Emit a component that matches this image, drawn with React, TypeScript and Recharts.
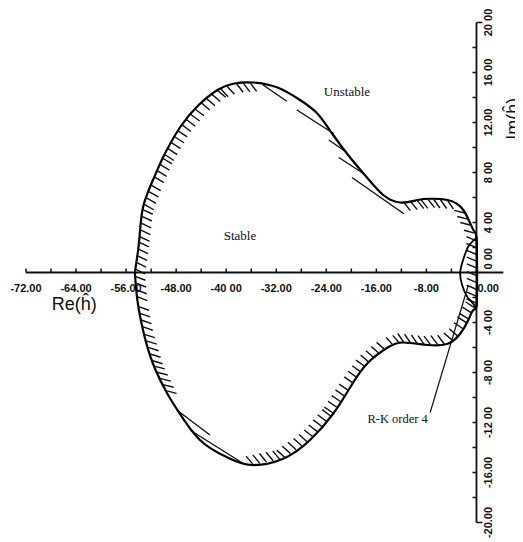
import React from 'react';
import { ScatterChart, Scatter, XAxis, YAxis, ReferenceLine, ReferenceDot } from 'recharts';

// stability boundary, traversed clockwise from the left real-axis crossing
const boundaryRe = [
  -54.6, -53.9, -53.3, -51.7, -50.1, -47.4, -44.4, -41.4, -38.9, -35.7, -31.8, -28.2,
  -25.4, -22.9, -20.2, -17.5, -14.9, -12.2, -9.4, -7.4, -4.6, -2.1, -0.5, 0.0,
  0.1, 0.0, -0.5, -1.3, -2.6, -4.6, -7.8, -11.7, -14.2, -17.5, -20.2, -22.9,
  -26.6, -30.9, -36.0, -39.8, -44.2, -47.8, -49.4, -51.7, -53.3, -54.2,
];
const boundaryIm = [
  0, 2.6, 5.2, 7.4, 9.2, 11.6, 13.4, 14.6, 15.1, 15.2, 14.8, 13.8,
  12.7, 11.0, 9.2, 7.6, 6.2, 5.6, 5.8, 5.9, 5.8, 5.0, 3.4, 2.8,
  0, -2.6, -3.0, -3.8, -4.9, -5.7, -5.8, -5.6, -6.0, -7.3, -9.2, -11.3,
  -13.4, -14.9, -15.4, -14.8, -13.4, -11.0, -9.7, -7.3, -4.6, -2.2,
];

// long strokes lying along the boundary where it runs parallel to the hatching
const longFromRe = [-34.1, -28.7, -23.6, -22.0, -19.9, -47.9, -45.8];
const longFromIm = [15.0, 13.0, 10.6, 9.2, 7.6, -11.0, -12.6];
const longToRe = [-30.3, -22.8, -20.7, -18.0, -11.6, -42.6, -37.2];
const longToIm = [13.7, 11.1, 9.6, 7.9, 4.7, -13.0, -15.3];

// R-K order 4 region
const rk4Re = [0, -0.6, -1.4, -2.2, -2.6, -2.3, -1.4, -0.5, 0, 0.1, 0.05, 0.1, 0];
const rk4Im = [2.8, 2.5, 2.0, 0.9, 0, -1.0, -2.0, -2.5, -2.8, -1.5, 0, 1.5, 2.8];

const xTicks = [-72, -68, -64, -60, -56, -52, -48, -44, -40, -36, -32, -28, -24, -20, -16, -12, -8, -4, 0];
const xLabelValues = [-72, -64, -56, -48, -40, -32, -24, -16, -8, 0];
const xLabels = ['-72.00', '-64.00', '-56.00', '-48.00', '-40 00', '-32.00', '-24.00', '-16.00', '-8.00', '0.00'];
const yTicks = [-20, -18, -16, -14, -12, -10, -8, -6, -4, -2, 0, 2, 4, 6, 8, 10, 12, 14, 16, 18, 20];
const yLabelValues = [20, 16, 12, 8, 4, 0, -4, -8, -12, -16, -20];
const yLabels = ['20 00', '16 00', '12.00', '8 00', '4 00', '0 00', '-4 00', '-8 00', '-12 00', '-16.00', '-20.00'];

const W = 515;
const H = 534;
const M = { top: 2, right: 9, bottom: 7, left: 18 };
const X_DOMAIN: [number, number] = [-72, 6];
const Y_DOMAIN: [number, number] = [-21, 21];
const KX = (W - M.left - M.right) / (X_DOMAIN[1] - X_DOMAIN[0]);
const KY = (H - M.top - M.bottom) / (Y_DOMAIN[1] - Y_DOMAIN[0]);

const boundaryData = boundaryRe.map((x, i) => ({ x, y: boundaryIm[i], i }));
const boundaryLoop = [...boundaryData, boundaryData[0]];
const rk4Data = rk4Re.map((x, i) => ({ x, y: rk4Im[i] }));
const xTickData = xTicks.map((x) => {
  const k = xLabelValues.indexOf(x);
  return { x, y: 0, label: k >= 0 ? xLabels[k] : '' };
});
const yTickData = yTicks.map((y) => {
  const k = yLabelValues.indexOf(y);
  return { x: 0, y, label: k >= 0 ? yLabels[k] : '' };
});

const tickFont = { fontFamily: '"Liberation Sans", Arial, sans-serif', fontSize: 11, fontWeight: 700 };
const serif = { fontFamily: '"Liberation Serif", serif', fontSize: 13 };
const sans18 = { fontFamily: '"Liberation Sans", Arial, sans-serif', fontSize: 18 };

const noDot = () => <g />;

// "\" hatch marks on the inner side of each boundary segment
const HatchShape = (props: any) => {
  const { cx, cy, payload } = props;
  const i = payload.i;
  const j = (i + 1) % boundaryRe.length;
  const dx = (boundaryRe[j] - boundaryRe[i]) * KX;
  const dy = -(boundaryIm[j] - boundaryIm[i]) * KY;
  const len = Math.hypot(dx, dy);
  if (!len) return <g />;
  const tx = dx / len, ty = dy / len;
  const nx = -ty, ny = tx;
  const fl = Math.hypot(1, 0.7);
  const fx = 1 / fl, fy = 0.7 / fl;
  if (Math.abs(tx * fy - ty * fx) < 0.45) return <g />;
  const sgn = fx * nx + fy * ny >= 0 ? 1 : -1;
  let hx = 0.55 * nx + sgn * fx, hy = 0.55 * ny + sgn * fy;
  const hl = Math.hypot(hx, hy);
  hx /= hl; hy /= hl;
  const L = 11;
  const step = 6.8;
  const marks = [];
  for (let s = step / 2; s < len; s += step) {
    const px = cx + tx * s, py = cy + ty * s;
    marks.push(
      <line key={s} x1={px} y1={py} x2={px + hx * L} y2={py + hy * L} stroke="#111" strokeWidth={1.4} />
    );
  }
  return <g>{marks}</g>;
};

const XTickShape = (props: any) => {
  const { cx, cy, payload } = props;
  const zero = payload.x === 0;
  return (
    <g>
      <line x1={cx} y1={cy} x2={cx} y2={cy - 4} stroke="#111" strokeWidth={1.5} />
      {payload.label && (
        <text x={zero ? cx + 1 : cx} y={cy + 19} textAnchor={zero ? 'start' : 'middle'} fill="#111" {...tickFont}>
          {payload.label}
        </text>
      )}
    </g>
  );
};

const YTickShape = (props: any) => {
  const { cx, cy, payload } = props;
  const end = Math.abs(payload.y) === 20;
  const zero = payload.y === 0;
  const lx = cx + 12;
  const ly = zero ? cy - 3 : cy;
  return (
    <g>
      <line x1={cx} y1={cy} x2={end ? cx + 6 : cx - 4} y2={cy} stroke="#111" strokeWidth={1.5} />
      {payload.label && (
        <text x={lx} y={ly} textAnchor={zero ? 'start' : 'middle'} dominantBaseline="central"
          transform={`rotate(-90 ${lx} ${ly})`} fill="#111" {...tickFont}>
          {payload.label}
        </text>
      )}
    </g>
  );
};

const textShape = (label: string, style: any, rotate = false) => (p: any) => (
  <text x={p.cx} y={p.cy} textAnchor="middle" dominantBaseline="central" fill="#111"
    transform={rotate ? `rotate(-90 ${p.cx} ${p.cy})` : undefined} {...style}>
    {label}
  </text>
);

export default function App() {
  return (
    <ScatterChart width={W} height={H} margin={M}>
      <XAxis type="number" dataKey="x" domain={X_DOMAIN} hide />
      <YAxis type="number" dataKey="y" domain={Y_DOMAIN} hide />

      <ReferenceLine segment={[{ x: -72, y: 0 }, { x: 4.3, y: 0 }]} stroke="#111" strokeWidth={1.8} />
      <ReferenceLine segment={[{ x: 0, y: -20 }, { x: 0, y: 20 }]} stroke="#111" strokeWidth={1.8} />
      <Scatter data={xTickData} shape={XTickShape} isAnimationActive={false} />
      <Scatter data={yTickData} shape={YTickShape} isAnimationActive={false} />

      <Scatter data={boundaryLoop} shape={noDot} line={{ stroke: '#000', strokeWidth: 2.2 }}
        lineJointType="natural" isAnimationActive={false} />
      <Scatter data={boundaryData} shape={HatchShape} isAnimationActive={false} />
      {longFromRe.map((x, k) => (
        <ReferenceLine key={k} segment={[{ x, y: longFromIm[k] }, { x: longToRe[k], y: longToIm[k] }]}
          stroke="#111" strokeWidth={1.4} />
      ))}
      <Scatter data={rk4Data} shape={noDot} line={{ stroke: '#000', strokeWidth: 1.8 }}
        lineJointType="natural" isAnimationActive={false} />

      <ReferenceLine segment={[{ x: -7.4, y: -11.2 }, { x: -1.3, y: -1.0 }]} stroke="#111" strokeWidth={1.2} />

      <ReferenceDot x={-37.8} y={3.0} shape={textShape('Stable', serif)} />
      <ReferenceDot x={-20.7} y={14.5} shape={textShape('Unstable', serif)} />
      <ReferenceDot x={-12.6} y={-11.7} shape={textShape('R-K order 4', { ...serif, fontSize: 12.5 })} />
      <ReferenceDot x={-64.3} y={-2.5} shape={textShape('Re(ĥ)', sans18)} />
      <ReferenceDot x={5.8} y={12.3} shape={textShape('Im(ĥ)', sans18, true)} />
    </ScatterChart>
  );
}
